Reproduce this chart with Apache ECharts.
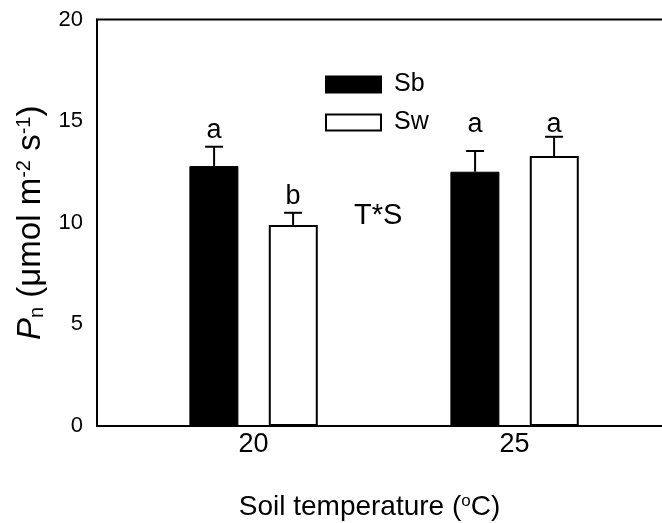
<!DOCTYPE html>
<html><head><meta charset="utf-8">
<script src="https://cdn.jsdelivr.net/npm/echarts@6/dist/echarts.min.js"></script>
<style>html,body{margin:0;padding:0;background:#fff}#c{width:662px;height:523px}</style>
</head><body><div id="c"></div>
<script>
const temps = [20, 25];
const sbMean = [12.79, 12.51];
const sbErr = [0.95, 1.02];
const swMean = [9.89, 13.28];
const swErr = [0.60, 0.95];
const sbLetters = ['a', 'a'];
const swLetters = ['b', 'a'];
const sbLetterY = [14.56, 14.83];
const swLetterY = [11.3, 14.83];
const xTickLabels = [20, 25];
const yTicks = [0, 5, 10, 15, 20];

const FONT = '"Liberation Sans", Arial, sans-serif';
const chart = echarts.init(document.getElementById('c'));

function errRender(offset, letters, letterY) {
  return function (params, api) {
    const lo = api.coord([api.value(0), api.value(1)]);
    const hi = api.coord([api.value(0), api.value(2)]);
    const lp = api.coord([api.value(0), letterY[params.dataIndex]]);
    const x = lo[0] + offset;
    return {
      type: 'group',
      children: [
        { type: 'line', shape: { x1: x, y1: lo[1], x2: x, y2: hi[1] }, style: { stroke: '#000', lineWidth: 2 } },
        { type: 'line', shape: { x1: x - 9, y1: hi[1], x2: x + 9, y2: hi[1] }, style: { stroke: '#000', lineWidth: 2 } },
        { type: 'text', x: x, y: lp[1], style: { text: letters[params.dataIndex], font: '27px ' + FONT, fill: '#000', align: 'center', verticalAlign: 'middle' } }
      ]
    };
  };
}

chart.setOption({
  animation: false,
  backgroundColor: '#fff',
  grid: { left: 97, top: 19.5, right: -5, bottom: 97, show: true, borderColor: '#000', borderWidth: 2, backgroundColor: 'transparent', outerBoundsMode: 'none', containLabel: false },
  legend: {
    orient: 'vertical', left: 320, top: 67, itemWidth: 55, itemHeight: 16, itemGap: 13,
    icon: 'rect',
    data: ['Sb', 'Sw'],
    textStyle: { fontSize: 25, color: '#000', fontFamily: FONT, padding: [0, 0, 0, 8] }
  },
  graphic: [
    { type: 'text', left: 354, top: 201, style: { text: 'T*S', font: '29px ' + FONT, fill: '#000' } }
  ],
  xAxis: {
    type: 'value', min: 17, max: 27.92,
    axisLine: { show: true, lineStyle: { color: '#000', width: 2 } },
    axisTick: { show: false },
    splitLine: { show: false },
    axisLabel: { customValues: xTickLabels, fontSize: 27, color: '#000', fontFamily: FONT, margin: 5 },
    name: 'Soil temperature ({sup|o}C)', nameLocation: 'middle', nameGap: 67,
    nameTextStyle: {
      fontSize: 28, color: '#000', fontFamily: FONT, padding: [0, 25, 0, 0],
      rich: { sup: { fontSize: 17, verticalAlign: 'top', padding: [0, 0, 12, 0], fontFamily: FONT } }
    }
  },
  yAxis: {
    type: 'value', min: yTicks[0], max: yTicks[yTicks.length - 1], interval: 5,
    axisLine: { show: true, lineStyle: { color: '#000', width: 2 } },
    axisTick: { show: false },
    splitLine: { show: false },
    axisLabel: { fontSize: 22, color: '#000', fontFamily: FONT, margin: 14 },
    name: '{i|P}{sub|n} (μmol m{sup|-2} s{sup|-1})', nameLocation: 'middle', nameGap: 41, nameRotate: 90,
    nameTextStyle: {
      fontSize: 33, color: '#000', fontFamily: FONT,
      rich: {
        i: { fontSize: 33, fontStyle: 'italic', fontFamily: FONT },
        sub: { fontSize: 20, verticalAlign: 'bottom', padding: [12, 0, 0, 0], fontFamily: FONT },
        sup: { fontSize: 20, verticalAlign: 'top', padding: [0, 0, 12, 0], fontFamily: FONT }
      }
    }
  },
  series: [
    {
      name: 'Sb', type: 'bar', barWidth: 49, barGap: '62%',
      data: temps.map((t, i) => [t, sbMean[i]]),
      itemStyle: { color: '#000', borderColor: '#000', borderWidth: 1 }
    },
    {
      name: 'Sw', type: 'bar', barWidth: 49,
      data: temps.map((t, i) => [t, swMean[i]]),
      itemStyle: { color: '#fff', borderColor: '#000', borderWidth: 2 }
    },
    {
      type: 'custom', name: 'SbErr', z: 5,
      renderItem: errRender(-39.5, sbLetters, sbLetterY),
      data: temps.map((t, i) => [t, sbMean[i], sbMean[i] + sbErr[i]]),
      encode: { x: 0, y: [1, 2] }
    },
    {
      type: 'custom', name: 'SwErr', z: 5,
      renderItem: errRender(39.5, swLetters, swLetterY),
      data: temps.map((t, i) => [t, swMean[i], swMean[i] + swErr[i]]),
      encode: { x: 0, y: [1, 2] }
    }
  ]
});
</script>
</body></html>
